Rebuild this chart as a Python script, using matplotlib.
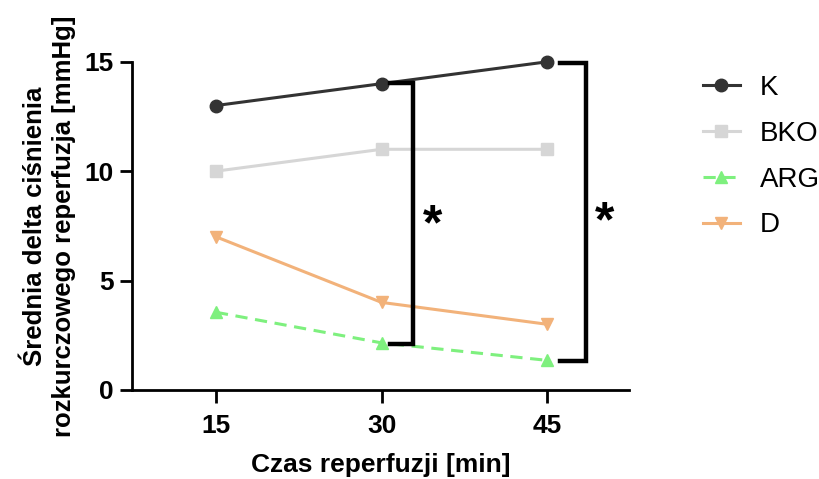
import matplotlib.pyplot as plt

plt.rcParams['font.family'] = ['Liberation Sans', 'DejaVu Sans']

# Czas reperfuzji [min]
times = [15, 30, 45]

# srednia delta cisnienia rozkurczowego [mmHg]
k_vals = [13, 14, 15]
bko_vals = [10, 11, 11]
arg_vals = [3.55, 2.15, 1.35]
d_vals = [7, 4, 3]

groups = ["K", "BKO", "ARG", "D"]

fig = plt.figure(figsize=(8.2, 4.79), dpi=100)
ax = fig.add_axes([0.161, 0.186, 0.606, 0.685])

ax.plot(times, k_vals, color="#333333", marker="o", markersize=9, lw=2.2,
        label=groups[0], clip_on=False, zorder=4)
ax.plot(times, bko_vals, color="#d6d6d6", marker="s", markersize=9, lw=2.2,
        label=groups[1], clip_on=False, zorder=3)
ax.plot(times, arg_vals, color="#7ef07e", marker="^", markersize=9, lw=2.2,
        ls=(0, (4, 2.5)), label=groups[2], clip_on=False, zorder=3)
ax.plot(times, d_vals, color="#f2b27a", marker="v", markersize=9, lw=2.2,
        label=groups[3], clip_on=False, zorder=3)

# brackets with significance
def bracket(x_left, x_right, y_top, y_bot, x_star, y_star):
    ax.plot([x_left, x_right, x_right, x_left], [y_top, y_top, y_bot, y_bot],
            color="black", lw=3.2, clip_on=False, zorder=5,
            solid_joinstyle="miter")
    ax.text(x_star, y_star, "*", fontsize=36, fontweight="bold",
            ha="center", va="center", clip_on=False)

bracket(30.8, 32.8, 14.05, 2.1, 34.6, 7.5)
bracket(46.2, 48.5, 14.95, 1.3, 50.2, 7.6)

ax.set_xlim(7.4, 52.4)
ax.set_ylim(0, 15)
ax.set_xticks(times)
ax.set_yticks([0, 5, 10, 15])

for s in ["top", "right"]:
    ax.spines[s].set_visible(False)
for s in ["left", "bottom"]:
    ax.spines[s].set_linewidth(2)
ax.tick_params(width=2, length=9, labelsize=19, pad=4)
ax.tick_params(axis="x", pad=8)
for lbl in ax.get_xticklabels() + ax.get_yticklabels():
    lbl.set_fontweight("bold")

ax.set_xlabel("Czas reperfuzji [min]", fontsize=19, fontweight="bold", labelpad=11)
ax.set_ylabel("Średnia delta ciśnienia\nrozkurczowego reperfuzja [mmHg]",
              fontsize=18.5, fontweight="bold", labelpad=6.5, linespacing=1.27)

leg = ax.legend(loc="upper left", bbox_to_anchor=(0.857, 0.843),
                bbox_transform=fig.transFigure, frameon=False,
                fontsize=20, handlelength=1.35, labelspacing=0.71,
                handletextpad=0.7, borderpad=0, borderaxespad=0)

fig.savefig("out.png", dpi=100)
